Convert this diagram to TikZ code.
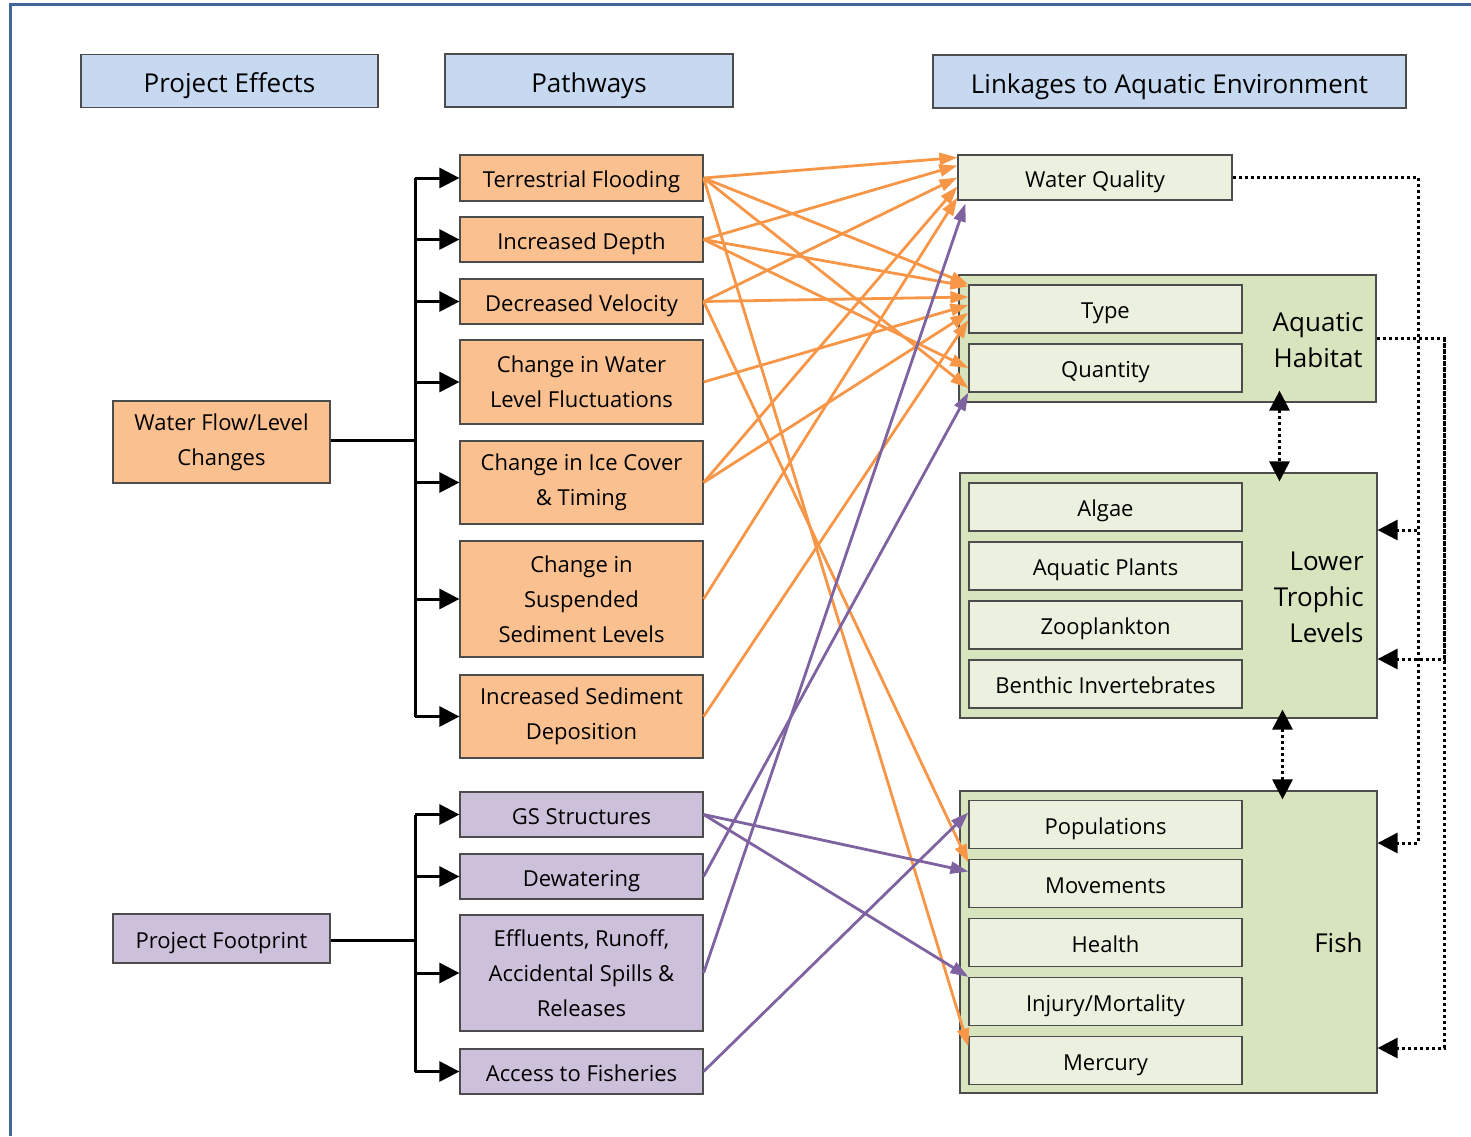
\documentclass[tikz,border=0pt]{standalone}
\usepackage{fontspec}
\setmainfont{Open Sans}
\usetikzlibrary{arrows.meta}

\definecolor{hdrblue}{HTML}{C6D9F1}
\definecolor{flowfill}{HTML}{FAC090}
\definecolor{footfill}{HTML}{CCC0DA}
\definecolor{linkout}{HTML}{D7E4BD}
\definecolor{linkin}{HTML}{EBF1DE}
\definecolor{floworange}{HTML}{F79646}
\definecolor{footpurple}{HTML}{7F63A1}
\definecolor{framecol}{HTML}{3F6797}

\begin{document}
\begin{tikzpicture}[x=0.5pt, y=-0.5pt,
  header/.style={draw=black!70, fill=hdrblue, line width=0.6pt, minimum height=26.5pt, text height=14.7pt, text depth=3.1pt, font=\fontsize{13}{16}\selectfont},
  effectbox/.style={draw=black!70, line width=0.6pt, minimum width=108.5pt, align=center, font=\fontsize{11}{17.5}\selectfont},
  pathbox/.style={draw=black!70, line width=0.6pt, minimum width=121.5pt, align=center, inner sep=2pt, font=\fontsize{11}{17.5}\selectfont},
  oneline/.style={align=none, text height=12.4pt, text depth=2.6pt},
  linkbox/.style={draw=black!70, fill=linkin, line width=0.6pt, minimum width=136.5pt, minimum height=24pt, oneline, font=\fontsize{11}{14}\selectfont},
  groupbox/.style={draw=black!70, fill=linkout, line width=0.6pt, minimum width=208.5pt},
  grouplabel/.style={anchor=east, inner sep=0pt, align=right, font=\fontsize{13}{18}\selectfont},
  busline/.style={line width=1.5pt},
  busarrow/.style={line width=1.5pt, -{Triangle[length=10pt,width=10pt]}},
  flowarrow/.style={draw=floworange, line width=1.4pt, -{Triangle[length=9pt,width=6pt]}},
  footarrow/.style={draw=footpurple, line width=1.4pt, -{Triangle[length=9pt,width=6pt]}},
  linkdots/.style={line width=1.5pt, dash pattern=on 1.5pt off 1.5pt},
  linkarrow/.style={linkdots, -{Triangle[length=10pt,width=10pt]}},
]
    \useasboundingbox (0,0) rectangle (1471,1136);

    % Frame
    \draw[framecol, line width=1.5pt] (10,1136) -- (10,4) -- (1471,4);

    % Column headers
    \node[header, minimum width=148.5pt] (effects) at (229.5,81) {Project Effects};
    \node[header, minimum width=144pt] (pathways) at (589,80.5) {Pathways};
    \node[header, minimum width=236.5pt] (linkages) at (1169.5,81.5) {Linkages to Aquatic Environment};

    % Project effects
    \node[effectbox, fill=flowfill, minimum height=41pt] (flow) at (221.5,442) {Water Flow/Level\\Changes};
    \node[effectbox, oneline, fill=footfill, minimum height=24.5pt] (foot) at (221.5,938.5) {Project Footprint};

    % Pathways of water flow changes
    \node[pathbox, oneline, fill=flowfill, minimum height=23pt] (tf) at (581.5,178) {Terrestrial Flooding};
    \node[pathbox, oneline, fill=flowfill, minimum height=22.5pt] (id) at (581.5,239.5) {Increased Depth};
    \node[pathbox, oneline, fill=flowfill, minimum height=22.5pt] (dv) at (581.5,301.5) {Decreased Velocity};
    \node[pathbox, fill=flowfill, minimum height=42pt] (cwlf) at (581.5,382) {Change in Water\\Level Fluctuations};
    \node[pathbox, fill=flowfill, minimum height=41.5pt] (cic) at (581.5,482.5) {Change in Ice Cover\\\& Timing};
    \node[pathbox, fill=flowfill, minimum height=58pt] (ssl) at (581.5,599) {Change in\\Suspended\\Sediment Levels};
    \node[pathbox, fill=flowfill, minimum height=41.5pt] (isd) at (581.5,716.5) {Increased Sediment\\Deposition};

    % Pathways of the footprint
    \node[pathbox, oneline, fill=footfill, minimum height=22.5pt] (gs) at (581.5,814.5) {GS Structures};
    \node[pathbox, oneline, fill=footfill, minimum height=22.5pt] (dw) at (581.5,876.5) {Dewatering};
    \node[pathbox, fill=footfill, minimum height=58pt] (eff) at (581.5,973) {Effluents, Runoff,\\Accidental Spills \&\\Releases};
    \node[pathbox, oneline, fill=footfill, minimum height=22.5pt] (af) at (581.5,1071.5) {Access to Fisheries};

    % Linkages
    \node[linkbox, minimum width=137pt, minimum height=22.5pt] (wq) at (1095,177.5) {Water Quality};

    \node[groupbox, minimum height=63.5pt] (habitat) at (1167.5,338.5) {};
    \node[linkbox] (type) at (1105.5,309) {Type};
    \node[linkbox] (quantity) at (1105.5,368) {Quantity};
    \node[grouplabel, align=center] (habitatlabel) at (1364,340) {Aquatic\\Habitat};

    \node[groupbox, minimum height=122.5pt] (trophic) at (1168.5,595.5) {};
    \node[linkbox] (algae) at (1105.5,507) {Algae};
    \node[linkbox] (plants) at (1105.5,566) {Aquatic Plants};
    \node[linkbox] (zoo) at (1105.5,625) {Zooplankton};
    \node[linkbox] (benthic) at (1105.5,684) {Benthic Invertebrates};
    \node[grouplabel] (trophiclabel) at (1364,597) {Lower\\Trophic\\Levels};

    \node[groupbox, minimum height=151pt] (fish) at (1168.5,942) {};
    \node[linkbox] (pop) at (1105.5,824.5) {Populations};
    \node[linkbox] (move) at (1105.5,883.5) {Movements};
    \node[linkbox] (health) at (1105.5,942.5) {Health};
    \node[linkbox] (injury) at (1105.5,1001.5) {Injury/Mortality};
    \node[linkbox] (mercury) at (1105.5,1060.5) {Mercury};
    \node[grouplabel] (fishlabel) at (1363,943) {Fish};

    % Bus lines to the pathways
    \coordinate (flowbus) at (415,440);
    \coordinate (footbus) at (415,940);
    \draw[busline] (flow.east |- flowbus) -- (flowbus);
    \draw[busline] (tf.west -| flowbus) -- (isd.west -| flowbus);
    \draw[busarrow] (tf.west -| flowbus) -- (tf.west);
    \draw[busarrow] (id.west -| flowbus) -- (id.west);
    \draw[busarrow] (dv.west -| flowbus) -- (dv.west);
    \draw[busarrow] (cwlf.west -| flowbus) -- (cwlf.west);
    \draw[busarrow] (cic.west -| flowbus) -- (cic.west);
    \draw[busarrow] (ssl.west -| flowbus) -- (ssl.west);
    \draw[busarrow] (isd.west -| flowbus) -- (isd.west);
    \draw[busline] (foot.east |- footbus) -- (footbus);
    \draw[busline] (gs.west -| footbus) -- (af.west -| footbus);
    \draw[busarrow] (gs.west -| footbus) -- (gs.west);
    \draw[busarrow] (dw.west -| footbus) -- (dw.west);
    \draw[busarrow] (eff.west -| footbus) -- (eff.west);
    \draw[busarrow] (af.west -| footbus) -- (af.west);

    % Water flow pathways to linkages
    \draw[flowarrow] (tf.east) -- ([yshift=10pt]wq.west);
    \draw[flowarrow] (tf.east) -- (type.north west);
    \draw[flowarrow] (tf.east) -- ([yshift=-10pt]quantity.west);
    \draw[flowarrow] (tf.east) -- ([yshift=7pt]mercury.west);
    \draw[flowarrow] (id.east) -- ([yshift=6pt]wq.west);
    \draw[flowarrow] (id.east) -- ([yshift=-1pt]type.north west);
    \draw[flowarrow] (id.east) -- (quantity.west);
    \draw[flowarrow] (dv.east) -- (wq.west);
    \draw[flowarrow] (dv.east) -- ([yshift=6pt]type.west);
    \draw[flowarrow] (dv.east) -- ([yshift=10.5pt]move.west);
    \draw[flowarrow] (cwlf.east) -- ([yshift=2pt]type.west);
    \draw[flowarrow] (cic.east) -- ([yshift=-4.5pt]wq.west);
    \draw[flowarrow] (cic.east) -- ([yshift=-2pt]type.west);
    \draw[flowarrow] (ssl.east) -- ([yshift=-10pt]wq.west);
    \draw[flowarrow] (isd.east) -- ([yshift=-5.5pt]type.west);

    % Footprint pathways to linkages
    \draw[footarrow] (gs.east) -- ([yshift=6pt]move.west);
    \draw[footarrow] (gs.east) -- (injury.north west);
    \draw[footarrow] (dw.east) -- (quantity.south west);
    \draw[footarrow] (eff.east) -- ([xshift=4pt,yshift=-1.5pt]wq.south west);
    \draw[footarrow] (af.east) -- ([yshift=6pt]pop.west);

    % Links between the linkage groups
    \coordinate (wqturn) at (1418,178);
    \coordinate (habitatturn) at (1444,340);
    \coordinate (fishtop) at ([yshift=49.5pt]fish.east);
    \coordinate (fishlow) at ([yshift=-53pt]fish.east);
    \draw[linkarrow] (wq.east) -| (wqturn |- fishtop) -- (fishtop);
    \draw[linkarrow] (wq.east -| wqturn) |- ([yshift=32.75pt]trophic.east);
    \draw[linkarrow] (habitat.east) -| (habitatturn |- fishlow) -- (fishlow);
    \draw[linkarrow] (habitat.east -| habitatturn) |- ([yshift=-31.75pt]trophic.east);
    \draw[linkdots, {Triangle[length=10pt,width=10pt]}-{Triangle[length=10pt,width=10pt]}, shorten <=-6pt, shorten >=-4.5pt] ([xshift=56pt]habitat.south) -- ([xshift=56pt]habitat.south |- trophic.north);
    \draw[linkdots, {Triangle[length=10pt,width=10pt]}-{Triangle[length=10pt,width=10pt]}, shorten <=-4.5pt, shorten >=-4.5pt] ([xshift=57pt]trophic.south) -- ([xshift=57pt]trophic.south |- fish.north);
\end{tikzpicture}
\end{document}
